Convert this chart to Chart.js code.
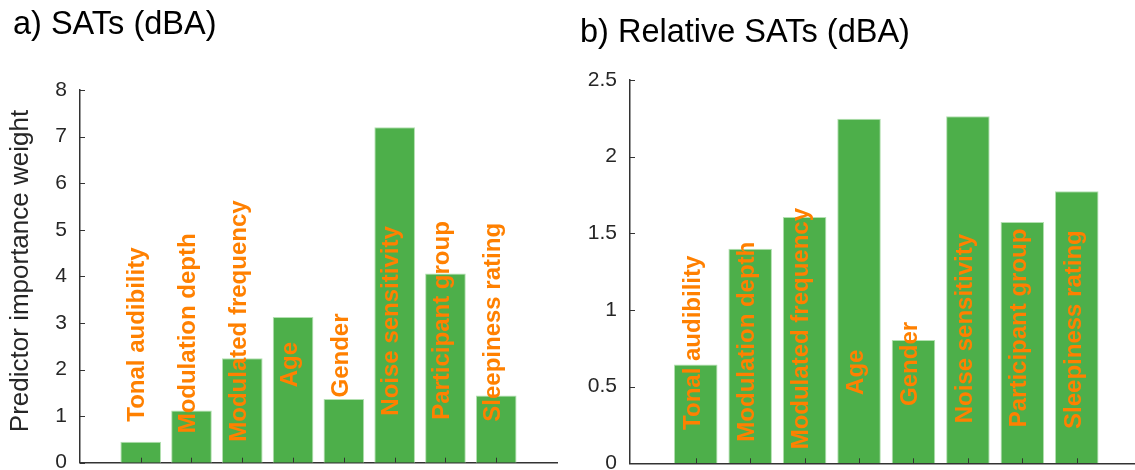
<!DOCTYPE html>
<html>
<head>
<meta charset="utf-8">
<script src="https://cdn.jsdelivr.net/npm/chart.js@4.4.1/dist/chart.umd.min.js"></script>
<style>
  html, body { margin: 0; padding: 0; background: #fff; overflow: hidden; }
  #wrap { position: relative; width: 1135px; height: 470px; }
  .panel { position: absolute; top: 0; height: 470px; }
  #pa { left: 0; width: 567px; }
  #pb { left: 567px; width: 568px; }
</style>
</head>
<body>
<div id="wrap">
  <div class="panel" id="pa"><canvas id="ca"></canvas></div>
  <div class="panel" id="pb"><canvas id="cb"></canvas></div>
</div>
<script>
// Predictors, in bar order
const predictors = [
  'Tonal audibility', 'Modulation depth', 'Modulated frequency', 'Age',
  'Gender', 'Noise sensitivity', 'Participant group', 'Sleepiness rating'
];

// Predictor importance weights
const satWeights    = [0.45, 1.12, 2.24, 3.13, 1.37, 7.20, 4.06, 1.44];
const relSatWeights = [0.644, 1.40, 1.607, 2.247, 0.805, 2.264, 1.574, 1.774];

// y-axis tick values
const satTicks    = [0, 1, 2, 3, 4, 5, 6, 7, 8];
const relSatTicks = [0, 0.5, 1, 1.5, 2, 2.5];

// value on the y axis where each rotated predictor name begins
const satNameStart    = [0.88, 0.63, 0.45, 1.62, 1.40, 1.01, 0.92, 0.88];
const relSatNameStart = [0.218, 0.141, 0.091, 0.446, 0.374, 0.261, 0.235, 0.224];

const FONT = '"Liberation Sans", Arial, Helvetica, sans-serif';
const AXIS_COLOR = '#333333';
const TEXT_COLOR = '#262626';

// Inward tick marks, rotated predictor names, panel title and y-axis title
const panelDecor = {
  id: 'panelDecor',
  afterDatasetsDraw(chart) {
    const ctx = chart.ctx;
    const cfg = chart.options.plugins.panelDecor;
    const xs = chart.scales.x, ys = chart.scales.y;
    const area = chart.chartArea;

    ctx.save();
    // tick marks pointing into the plot
    ctx.strokeStyle = AXIS_COLOR;
    ctx.lineWidth = 1;
    ctx.beginPath();
    predictors.forEach((_, i) => {
      const px = Math.round(xs.getPixelForValue(i + 1)) + 0.5;
      ctx.moveTo(px, area.bottom);
      ctx.lineTo(px, area.bottom - 5);
    });
    cfg.ticks.forEach(v => {
      const py = Math.round(ys.getPixelForValue(v)) + 0.5;
      ctx.moveTo(area.left, py);
      ctx.lineTo(area.left + 5, py);
    });
    ctx.stroke();

    // predictor names written upward along each bar
    ctx.fillStyle = '#ff8000';
    ctx.font = 'bold 24px ' + FONT;
    ctx.textAlign = 'left';
    ctx.textBaseline = 'alphabetic';
    predictors.forEach((name, i) => {
      const px = xs.getPixelForValue(i + 1) + 3.8;
      const py = ys.getPixelForValue(cfg.nameStart[i]);
      ctx.save();
      ctx.translate(px, py);
      ctx.rotate(-Math.PI / 2);
      ctx.fillText(name, 0, 0);
      ctx.restore();
    });
    ctx.restore();
  },
  afterDraw(chart) {
    const ctx = chart.ctx;
    const cfg = chart.options.plugins.panelDecor;
    ctx.save();
    ctx.fillStyle = '#000';
    ctx.font = '32.5px ' + FONT;
    ctx.textAlign = 'left';
    ctx.textBaseline = 'alphabetic';
    ctx.fillText(cfg.title, cfg.titleX, cfg.titleY);

    if (cfg.yTitle) {
      ctx.fillStyle = TEXT_COLOR;
      ctx.font = '26px ' + FONT;
      ctx.textAlign = 'center';
      ctx.translate(cfg.yTitleX, cfg.yTitleY);
      ctx.rotate(-Math.PI / 2);
      ctx.fillText(cfg.yTitle, 0, 0);
    }
    ctx.restore();
  }
};

function buildPanel(canvasId, values, ticks, nameStart, g) {
  return new Chart(document.getElementById(canvasId), {
    type: 'bar',
    data: {
      datasets: [{
        data: values.map((v, i) => ({ x: i + 1, y: v })),
        backgroundColor: '#4daf4a',
        borderColor: '#b3e0b1',
        borderWidth: 1,
        barPercentage: 0.8,
        categoryPercentage: 1.0
      }]
    },
    options: {
      responsive: true,
      maintainAspectRatio: false,
      animation: false,
      devicePixelRatio: 1,
      layout: { padding: g.padding },
      plugins: {
        legend: { display: false },
        tooltip: { enabled: false },
        panelDecor: {
          ticks: ticks,
          nameStart: nameStart,
          title: g.title, titleX: g.titleX, titleY: g.titleY,
          yTitle: g.yTitle, yTitleX: g.yTitleX, yTitleY: g.yTitleY
        }
      },
      scales: {
        x: {
          type: 'linear',
          offset: false,
          min: g.xMin,
          max: g.xMax,
          grid: { display: false, drawTicks: false },
          ticks: { display: false },
          border: { display: true, color: AXIS_COLOR, width: 1.5 },
          afterFit(s) { s.height = 0; s.paddingLeft = 0; s.paddingRight = 0; }
        },
        y: {
          min: 0,
          max: ticks[ticks.length - 1],
          afterBuildTicks(s) { s.ticks = ticks.map(v => ({ value: v })); },
          grid: { display: false, drawTicks: false },
          border: { display: true, color: AXIS_COLOR, width: 1.5 },
          ticks: {
            padding: 13,
            color: TEXT_COLOR,
            font: { family: FONT, size: 21 },
            callback: v => String(v)
          },
          afterFit(s) {
            s.width = g.yWidth;
            s.paddingTop = 0;
            s.paddingBottom = 0;
          }
        }
      }
    },
    plugins: [panelDecor]
  });
}

buildPanel('ca', satWeights, satTicks, satNameStart, {
  padding: { left: 0, right: 9.3, top: 90, bottom: 7.3 },
  yWidth: 80,
  xMin: -0.195, xMax: 9.21,
  title: 'a) SATs (dBA)', titleX: 13, titleY: 34,
  yTitle: 'Predictor importance weight', yTitleX: 28, yTitleY: 271
});

buildPanel('cb', relSatWeights, relSatTicks, relSatNameStart, {
  padding: { left: 0, right: 0, top: 80, bottom: 6.7 },
  yWidth: 63,
  xMin: -0.208, xMax: 9.07,
  title: 'b) Relative SATs (dBA)', titleX: 13, titleY: 41.5,
  yTitle: null
});
</script>
</body>
</html>
